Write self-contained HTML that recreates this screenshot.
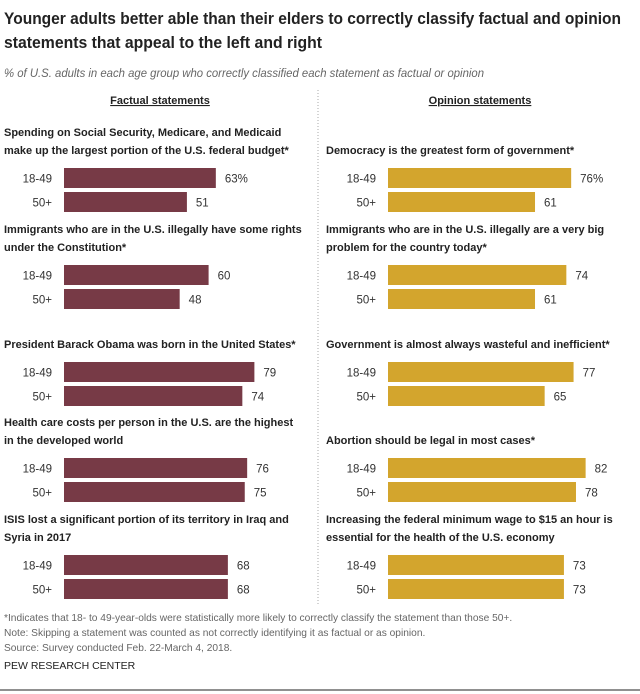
<!DOCTYPE html>
<html><head><meta charset="utf-8"><style>
body{margin:0;background:#fff;}
svg{display:block;font-family:"Liberation Sans",Arial,sans-serif;}
</style></head><body>
<svg id="chart" width="640" height="694" viewBox="0 0 640 694">
<text font-size="17" font-weight="bold" fill="#222"><tspan x="4" y="24" textLength="617" lengthAdjust="spacingAndGlyphs">Younger adults better able than their elders to correctly classify factual and opinion</tspan><tspan x="4" y="48" textLength="318" lengthAdjust="spacingAndGlyphs">statements that appeal to the left and right</tspan></text>
<text x="4" y="77" font-size="11.5" font-style="italic" fill="#666" textLength="480" lengthAdjust="spacingAndGlyphs">% of U.S. adults in each age group who correctly classified each statement as factual or opinion</text>
<text x="160" y="104" font-size="11" font-weight="bold" fill="#222" text-anchor="middle" text-decoration="underline">Factual statements</text>
<text x="480" y="104" font-size="11" font-weight="bold" fill="#222" text-anchor="middle" text-decoration="underline">Opinion statements</text>
<line x1="318" y1="90" x2="318" y2="605" stroke="#aaa" stroke-dasharray="1,2"/>
<g id="bars"></g>
<g font-size="10.2" fill="#666">
<text x="4" y="621">*Indicates that 18- to 49-year-olds were statistically more likely to correctly classify the statement than those 50+.</text>
<text x="4" y="636">Note: Skipping a statement was counted as not correctly identifying it as factual or as opinion.</text>
<text x="4" y="651">Source: Survey conducted Feb. 22-March 4, 2018.</text>
</g>
<text x="4" y="669" font-size="10.5" fill="#222">PEW RESEARCH CENTER</text>
<line x1="0" y1="690" x2="640" y2="690" stroke="#222" stroke-width="1"/>
</svg>
<script>
const factualStatements = [
 ["Spending on Social Security, Medicare, and Medicaid","make up the largest portion of the U.S. federal budget*"],
 ["Immigrants who are in the U.S. illegally have some rights","under the Constitution*"],
 ["President Barack Obama was born in the United States*"],
 ["Health care costs per person in the U.S. are the highest","in the developed world"],
 ["ISIS lost a significant portion of its territory in Iraq and","Syria in 2017"]
];
const factualYoung = [63, 60, 79, 76, 68];
const factualOld = [51, 48, 74, 75, 68];
const opinionStatements = [
 ["Democracy is the greatest form of government*"],
 ["Immigrants who are in the U.S. illegally are a very big","problem for the country today*"],
 ["Government is almost always wasteful and inefficient*"],
 ["Abortion should be legal in most cases*"],
 ["Increasing the federal minimum wage to $15 an hour is","essential for the health of the U.S. economy"]
];
const opinionYoung = [76, 74, 77, 82, 73];
const opinionOld = [61, 61, 65, 78, 73];
const ageGroups = ["18-49", "50+"];

const NS = "http://www.w3.org/2000/svg";
const g = document.getElementById("bars");
const groupTop = [168, 265, 362, 458, 555];
const unit = 2.41;
function xScale(v, x0){ return x0 + v*unit; }
function mk(tag, attrs){ const e=document.createElementNS(NS,tag); for(const k in attrs) e.setAttribute(k,attrs[k]); return e; }

function drawPanel(statements, young, old, textX, barX0, color, side){
  statements.forEach((lines,i)=>{
    const top = groupTop[i];
    lines.forEach((ln,j)=>{
      const t = mk("text",{x:textX, y: top - 14 - (lines.length-1-j)*18, "font-size":11, "font-weight":"bold", fill:"#222"});
      t.textContent = ln;
      
      
      g.appendChild(t);
    });
    [young[i], old[i]].forEach((v,k)=>{
      const y = top + k*24;
      const r = mk("rect",{x:barX0, y:y, width: xScale(v,barX0)-barX0, height:20, fill:color});
      
      
      g.appendChild(r);
      const lab = mk("text",{x:barX0-12, y:y+14.5, "font-size":11.5, fill:"#333", "text-anchor":"end"});
      lab.textContent = ageGroups[k];
      
      
      g.appendChild(lab);
      const val = mk("text",{x:xScale(v,barX0)+9, y:y+14.5, "font-size":11.5, fill:"#333"});
      val.textContent = v + ((i===0&&k===0)?"%":"");
      
      
      g.appendChild(val);
    });
  });
}
drawPanel(factualStatements, factualYoung, factualOld, 4, 64, "#773a46", "factual");
drawPanel(opinionStatements, opinionYoung, opinionOld, 326, 388, "#d3a52d", "opinion");
</script>
</body></html>
